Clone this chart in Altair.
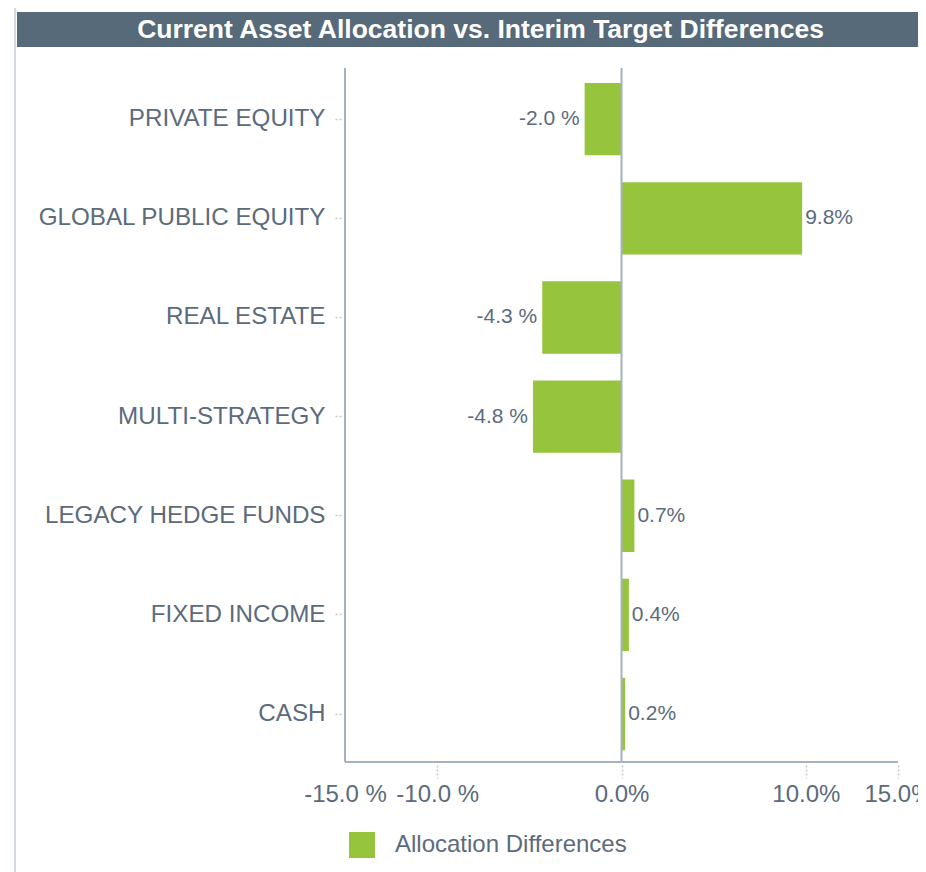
import altair as alt
import pandas as pd

categories = ["PRIVATE EQUITY", "GLOBAL PUBLIC EQUITY", "REAL ESTATE", "MULTI-STRATEGY",
              "LEGACY HEDGE FUNDS", "FIXED INCOME", "CASH"]
values = [-2.0, 9.8, -4.3, -4.8, 0.7, 0.4, 0.2]
series_name = "Allocation Differences"
title_text = "Current Asset Allocation vs. Interim Target Differences"
x_ticks = [-15, -10, 0, 10, 15]

GREEN = "#97c43d"
SLATE = "#566a7a"
TEXT = "#5b6b7c"
AXIS = "#a5b2bf"
TICK = "#c3cad2"
FONT = "Liberation Sans"

df = pd.DataFrame({
    "category": categories,
    "value": values,
    "series": [series_name] * len(categories),
    "label": [f"{v:.1f} %" if v < 0 else f"{v:.1f}%" for v in values],
})

W, H = 553, 694

xscale = alt.Scale(domain=[-15, 15], nice=False, zero=False)
yscale = alt.Scale(domain=categories, paddingInner=0.27, paddingOuter=0.135, align=0.56)

x_label_expr = ("datum.value < 0 ? replace(format(datum.value, '.1f'), '\u2212', '-') + ' %' "
                ": format(datum.value, '.1f') + '%'")

base = alt.Chart(df)

bars = base.mark_bar(color=GREEN).encode(
    x=alt.X("value:Q", scale=xscale,
            axis=alt.Axis(values=x_ticks, title=None, grid=False, domain=False, offset=3,
                          tickSize=13, tickDash=[2, 2], tickWidth=1.5,
                          tickColor={"condition": {"test": "datum.value == -15", "value": "transparent"},
                                     "value": TICK},
                          labelPadding=4, labelFontSize=24, labelFont=FONT, labelColor=TEXT,
                          labelFlush=False, labelOverlap=False, labelLimit=0,
                          labelExpr=x_label_expr)),
    y=alt.Y("category:N", scale=yscale, sort=categories,
            axis=alt.Axis(title=None, grid=False, domain=False, offset=4,
                          tickSize=8, tickDash=[2, 2], tickColor=TICK, tickWidth=1.5,
                          labelPadding=8, labelFontSize=24.2, labelFont=FONT, labelColor=TEXT,
                          labelLimit=0, labelOverlap=False)),
    color=alt.Color("series:N", scale=alt.Scale(domain=[series_name], range=[GREEN]),
                    legend=alt.Legend(title=None, orient="none", legendX=4, legendY=764,
                                      symbolType="square", symbolSize=676, symbolStrokeWidth=0,
                                      labelFont=FONT, labelFontSize=24, labelColor=TEXT,
                                      labelOffset=20, labelLimit=0, padding=0)),
)

neg_labels = base.transform_filter("datum.value < 0").mark_text(
    align="right", baseline="middle", dx=-5, font=FONT, fontSize=21, color=TEXT
).encode(x=alt.X("value:Q", scale=xscale), y=alt.Y("category:N", scale=yscale, sort=categories),
         text="label:N")

pos_labels = base.transform_filter("datum.value >= 0").mark_text(
    align="left", baseline="middle", dx=3, font=FONT, fontSize=21, color=TEXT
).encode(x=alt.X("value:Q", scale=xscale), y=alt.Y("category:N", scale=yscale, sort=categories),
         text="label:N")

one = alt.Data(values=[{"k": 1}])

y_axis_line = alt.Chart(one).mark_rule(color=AXIS, strokeWidth=2).encode(
    x=alt.datum(-15, scale=xscale))
zero_line = alt.Chart(one).mark_rule(color=AXIS, strokeWidth=2).encode(
    x=alt.datum(0, scale=xscale))
x_axis_line = alt.Chart(one).mark_rule(color=AXIS, strokeWidth=2).encode(
    y=alt.value(H), x=alt.value(0), x2=alt.value(W))

title_bar = alt.Chart(one).mark_rect(color=SLATE).encode(
    x=alt.value(-328), x2=alt.value(573), y=alt.value(-56), y2=alt.value(-21))
title_txt = alt.Chart(one).mark_text(
    font=FONT, fontSize=26.5, fontWeight="bold", color="white", align="center", baseline="middle"
).encode(x=alt.value(135.5), y=alt.value(-38), text=alt.value(title_text))
left_border = alt.Chart(one).mark_rule(color="#d3d9e0", strokeWidth=2).encode(
    x=alt.value(-330), y=alt.value(-60), y2=alt.value(804))

chart = alt.layer(
    left_border, title_bar, title_txt, bars, neg_labels, pos_labels,
    y_axis_line, x_axis_line, zero_line
).properties(
    width=W, height=H,
    autosize=alt.AutoSizeParams(type="none"),
    padding={"left": 337, "top": 60, "right": 20, "bottom": 110},
).configure_view(stroke=None)

chart.save("out.html", embed_options={"renderer": "svg", "actions": False})
